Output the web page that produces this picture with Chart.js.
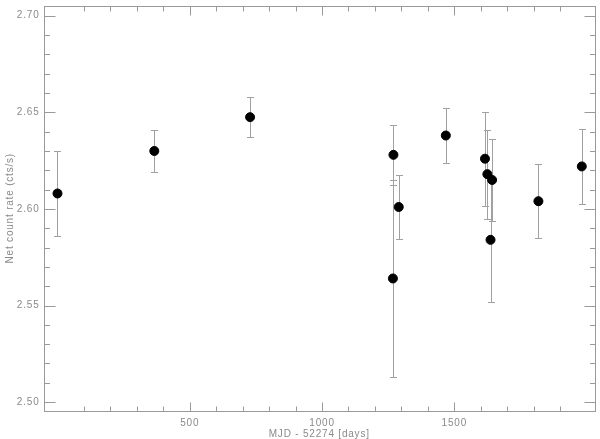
<!DOCTYPE html>
<html>
<head>
<meta charset="utf-8">
<script src="https://cdn.jsdelivr.net/npm/chart.js@4.4.1/dist/chart.umd.min.js"></script>
<style>
  html, body { margin: 0; padding: 0; background: #fff; }
  #wrap { width: 600px; height: 439px; }
</style>
</head>
<body>
<div id="wrap"><canvas id="myChart" width="600" height="439"></canvas></div>
<script>
// days since MJD 52274
let days = [0, 366, 728, 1268, 1270, 1290, 1468, 1616, 1625, 1637, 1643, 1818, 1982];
let rate = [2.608, 2.630, 2.6475, 2.564, 2.628, 2.601, 2.638, 2.626, 2.618, 2.584, 2.615, 2.604, 2.622];
let rateErr = [0.022, 0.0107, 0.0105, 0.051, 0.0155, 0.0167, 0.0143, 0.0243, 0.023, 0.0323, 0.0214, 0.019, 0.0194];

let xMajor = [500, 1000, 1500];
let xMinor = [100, 200, 300, 400, 600, 700, 800, 900, 1100, 1200, 1300, 1400, 1600, 1700, 1800, 1900];
let yMajor = [2.50, 2.55, 2.60, 2.65, 2.70];
let yLabels = ["2.50", "2.55", "2.60", "2.65", "2.70"];

const xTitle = "MJD - 52274 [days]";
const yTitle = "Net count rate (cts/s)";
const axisColor = "#9a9a9a";
const textColor = "#8a8a8a";
const font = "10px 'Liberation Sans'";

let points = [];
for (let i = 0; i < days.length; i++) {
    points.push({x: days[i], y: rate[i]});
}

// error bars under the points
const errorBars = {
    id: "errorBars",
    beforeDatasetsDraw(chart) {
        const ctx = chart.ctx;
        const xs = chart.scales.x, ys = chart.scales.y;
        ctx.save();
        ctx.strokeStyle = "#a0a0a0";
        ctx.lineWidth = 1;
        for (let i = 0; i < days.length; i++) {
            let px = Math.round(xs.getPixelForValue(days[i])) + 0.5;
            let top = Math.round(ys.getPixelForValue(rate[i] + rateErr[i])) + 0.5;
            let bot = Math.round(ys.getPixelForValue(rate[i] - rateErr[i])) + 0.5;
            ctx.beginPath();
            ctx.moveTo(px, top); ctx.lineTo(px, bot);
            ctx.moveTo(px - 3.5, top); ctx.lineTo(px + 3.5, top);
            ctx.moveTo(px - 3.5, bot); ctx.lineTo(px + 3.5, bot);
            ctx.stroke();
        }
        ctx.restore();
    }
};

// box frame with inward ticks, labels and titles
const frame = {
    id: "frame",
    afterDraw(chart) {
        const ctx = chart.ctx;
        const a = chart.chartArea;
        const xs = chart.scales.x, ys = chart.scales.y;
        const L = Math.round(a.left) + 0.5, R = Math.round(a.right) + 0.5;
        const T = Math.round(a.top) + 0.5, B = Math.round(a.bottom) + 0.5;
        ctx.save();
        ctx.strokeStyle = axisColor;
        ctx.lineWidth = 1;
        ctx.strokeRect(L, T, R - L, B - T);
        ctx.beginPath();
        function xTick(v, len) {
            let px = Math.round(xs.getPixelForValue(v)) + 0.5;
            ctx.moveTo(px, B); ctx.lineTo(px, B - len);
            ctx.moveTo(px, T); ctx.lineTo(px, T + len);
        }
        function yTick(v, len) {
            let py = Math.round(ys.getPixelForValue(v)) + 0.5;
            ctx.moveTo(L, py); ctx.lineTo(L + len, py);
            ctx.moveTo(R, py); ctx.lineTo(R - len, py);
        }
        xMajor.forEach(v => xTick(v, 9));
        xMinor.forEach(v => xTick(v, 5));
        yMajor.forEach(v => yTick(v, 11));
        for (let i = 0; i < yMajor.length - 1; i++) {
            for (let k = 1; k < 5; k++) yTick(yMajor[i] + k * 0.01, 5.5);
        }
        ctx.stroke();

        ctx.fillStyle = textColor;
        ctx.font = font;
        ctx.letterSpacing = "0.8px";
        ctx.textAlign = "center";
        ctx.textBaseline = "middle";
        xMajor.forEach(v => ctx.fillText(String(v), xs.getPixelForValue(v), B + 12));
        ctx.fillText(xTitle, (a.left + a.right) / 2, B + 23);
        ctx.textAlign = "right";
        yMajor.forEach((v, i) => ctx.fillText(yLabels[i], L - 5, ys.getPixelForValue(v)));
        ctx.translate(10, (a.top + a.bottom) / 2);
        ctx.rotate(-Math.PI / 2);
        ctx.textAlign = "center";
        ctx.fillText(yTitle, 0, 0);
        ctx.restore();
    }
};

new Chart("myChart", {
    type: "scatter",
    data: {
        datasets: [{
            data: points,
            backgroundColor: "#000",
            borderColor: "#000",
            pointRadius: 4.5,
            pointHoverRadius: 4.5
        }]
    },
    options: {
        responsive: false,
        animation: false,
        events: [],
        layout: { padding: { left: 44, right: 5, top: 3, bottom: 28 } },
        plugins: { legend: { display: false }, tooltip: { enabled: false } },
        scales: {
            x: { type: "linear", min: -51, max: 2030, display: false },
            y: { type: "linear", min: 2.4954, max: 2.7053, display: false }
        }
    },
    plugins: [errorBars, frame]
});
</script>
</body>
</html>
